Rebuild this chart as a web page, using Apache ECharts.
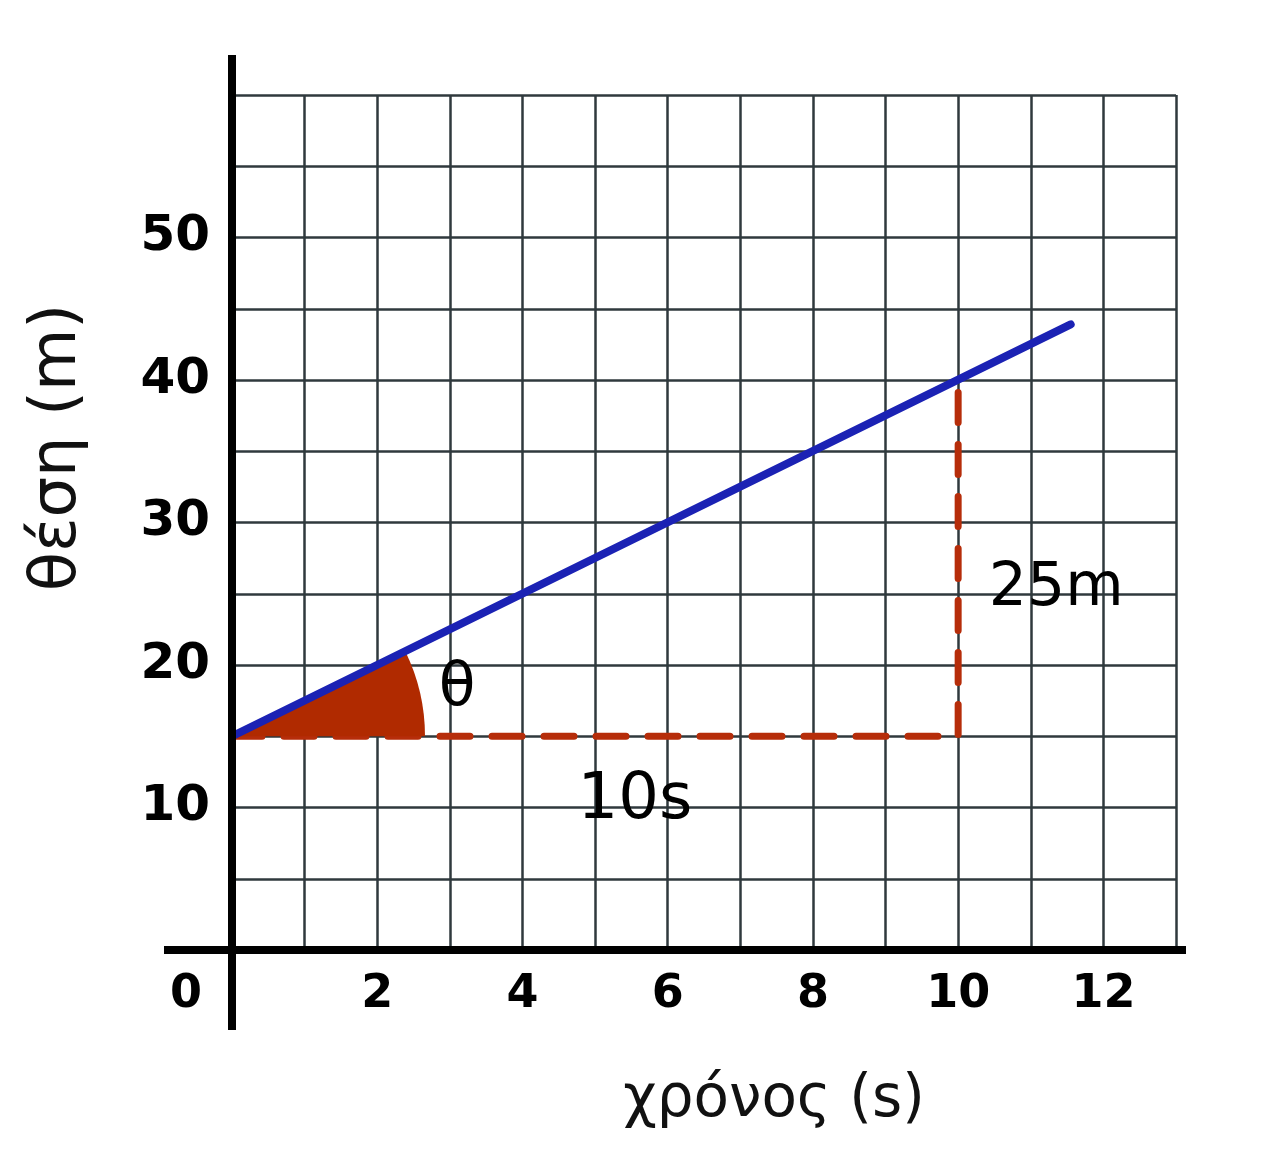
<!DOCTYPE html>
<html><head><meta charset="utf-8">
<script src="https://cdn.jsdelivr.net/npm/echarts@6/dist/echarts.min.js"></script>
<style>html,body{margin:0;padding:0;background:#fff}#c{width:1266px;height:1151px}</style>
</head><body><div id="c"></div>
<script>
// data
var xTickLabels = ['0','','2','','4','','6','','8','','10','','12',''];
var yTickLabels = ['', '', '10', '', '20', '', '30', '', '40', '', '50', '', ''];
var positionLine = [[0, 15], [11.55, 43.9]];
var slopeGuide = [[0, 15], [10, 15], [10, 40]];
var angleVertex = [0, 15];
var annotations = [
  {text: '10s', x: 5.55, y: 10.4, size: 64},
  {text: '25m', x: 11.35, y: 25.3, size: 60},
  {text: 'θ', x: 3.1, y: 18.3, size: 60}
];
var xName = 'χρόνος (s)';
var yName = 'θέση (m)';

var chart = echarts.init(document.getElementById('c'));
var FONT = 'DejaVu Sans';
var option = {
  backgroundColor: '#fff',
  animation: false,
  grid: {left: 232, right: 90, top: 95, bottom: 201, containLabel: false},
  xAxis: {
    type: 'value', min: 0, max: 13, interval: 1,
    name: xName, nameLocation: 'middle', nameGap: 122,
    nameTextStyle: {fontFamily: FONT, fontSize: 58, color: '#111', padding: [0, 0, 0, 140]},
    axisLine: {show: true, onZero: false, lineStyle: {color: '#000', width: 8}},
    axisTick: {show: false},
    axisLabel: {
      fontFamily: FONT, fontSize: 46, color: '#000', margin: 22, fontWeight: 'bold',
      formatter: function (v) {
        var s = xTickLabels[Math.round(v)] || '';
        if (s === '0') return '{z|0}';
        return s;
      },
      rich: {z: {fontFamily: FONT, fontSize: 46, fontWeight: 'bold', color: '#000', padding: [0, 92, 0, 0]}}
    },
    splitLine: {show: true, lineStyle: {color: '#2f393d', width: 2.5}}
  },
  yAxis: {
    type: 'value', min: 0, max: 60, interval: 5,
    name: yName, nameLocation: 'middle', nameGap: 142, nameRotate: 90,
    nameTextStyle: {fontFamily: FONT, fontSize: 64, color: '#111', padding: [0, 0, 0, 150]},
    axisLine: {show: true, onZero: false, lineStyle: {color: '#000', width: 8}},
    axisTick: {show: false},
    axisLabel: {
      fontFamily: FONT, fontSize: 50, color: '#000', margin: 22, fontWeight: 'bold',
      formatter: function (v) { return yTickLabels[Math.round(v / 5)] || ''; }
    },
    splitLine: {show: true, lineStyle: {color: '#2f393d', width: 2.5}}
  },
  series: [
    {
      type: 'custom', z: 3,
      renderItem: function (params, api) {
        var c = api.coord(angleVertex);
        var e = api.coord(positionLine[1]);
        var ang = Math.atan2(e[1] - c[1], e[0] - c[0]);
        return {
          type: 'sector',
          shape: {cx: c[0], cy: c[1], r0: 0, r: 193, startAngle: ang, endAngle: 0, clockwise: true},
          style: {fill: '#b02a00'}
        };
      },
      data: [angleVertex]
    },
    {
      type: 'line', data: slopeGuide, symbol: 'none', z: 2,
      lineStyle: {color: '#b62d0a', width: 7, type: [30, 22], cap: 'round'}
    },
    {
      type: 'line', data: positionLine, symbol: 'none', z: 4,
      lineStyle: {color: '#1b22b4', width: 8, cap: 'round'}
    },
    {
      type: 'scatter', symbolSize: 1, z: 5,
      itemStyle: {opacity: 0},
      data: annotations.map(function (a) {
        return {value: [a.x, a.y], name: a.text, label: {fontSize: a.size}};
      }),
      label: {show: true, position: 'inside', formatter: '{b}', fontFamily: FONT, fontSize: 56,
        color: '#000', opacity: 1, textBorderWidth: 0}
    }
  ]
};
chart.setOption(option);

// extended axis lines (beyond the grid like the drawing)
var o = chart.convertToPixel({gridIndex: 0}, [0, 0]);
var tr = chart.convertToPixel({gridIndex: 0}, [13, 60]);
chart.setOption({
  graphic: [
    {type: 'line', shape: {x1: o[0], y1: tr[1] - 40, x2: o[0], y2: o[1] + 80}, style: {stroke: '#000', lineWidth: 8}, z: 10},
    {type: 'line', shape: {x1: o[0] - 68, y1: o[1], x2: tr[0] + 10, y2: o[1]}, style: {stroke: '#000', lineWidth: 8}, z: 10}
  ]
});
</script>
</body></html>
